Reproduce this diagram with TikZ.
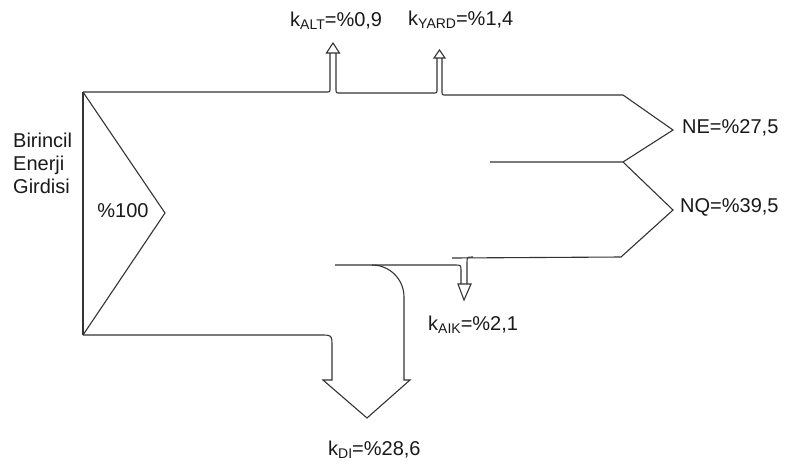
\documentclass[tikz,border=0pt]{standalone}
\usepackage{fontspec}
\setmainfont{Liberation Sans}
\newcommand\sbx[1]{\raisebox{-3pt}{\fontsize{14}{14}\selectfont #1}}
\begin{document}
\begin{tikzpicture}[x=1pt,y=-1pt,
  ln/.style={draw=black!80,line width=1.1pt,line join=miter},
  lbl/.style={inner sep=0pt,text=black!90,font=\fontsize{20}{23}\selectfont}]
\useasboundingbox (0,0) rectangle (789,464);
% left side and input chevron
\draw[ln] (83,335) -- (83,92);
\draw[ln] (83,92) -- (165,213) -- (83,335);
% top edge with ALT and YARD losses
\draw[ln] (83,92) -- (326,92) .. controls (330,92) .. (330,88) -- (330,53);
\draw[ln] (326.5,53) -- (333,43) -- (339.5,53) -- cycle;
\draw[ln] (336,53) -- (336,89) .. controls (336,93) .. (340,93) -- (433,93) .. controls (437,93) .. (437,89) -- (437,58);
\draw[ln] (434,58) -- (439.5,50) -- (445,58) -- cycle;
\draw[ln] (442,58) -- (442,91) .. controls (442,95) .. (446,95) -- (623,95) -- (673,130) -- (623,162) -- (490,162);
% NQ output and AIK loss
\draw[ln] (623,162) -- (673,210) -- (621,257) -- (452,258);
\draw[ln] (473,257) .. controls (467,257) .. (467,263) -- (467,284);
\draw[ln] (335,265) -- (455,265) .. controls (461,265) .. (461,271) -- (461,284);
\draw[ln] (458,284) -- (464,300) -- (471,284) -- cycle;
% DI loss
\draw[ln] (372,265) .. controls (389.7,265) and (404,279.3) .. (404,297) -- (404,380) -- (410,380) -- (367,418) -- (323,380) -- (332,380) -- (332,347) .. controls (332,335) .. (320,335) -- (83,335);
% labels
\node[lbl,anchor=base west,align=left] (inp) at (13,193) {Birincil\\Enerji\\Girdisi};
\node[lbl,anchor=base] (p100) at (123,217) {\%100};
\node[lbl,anchor=base west] (ne) at (682,133) {NE=\%27,5};
\node[lbl,anchor=base west] (nq) at (680,212) {NQ=\%39,5};
\node[lbl,anchor=base west] (alt) at (290,26) {k\sbx{ALT}=\%0,9};
\node[lbl,anchor=base west] (yard) at (408,25) {k\sbx{YARD}=\%1,4};
\node[lbl,anchor=base west] (aik) at (428,330) {k\sbx{AIK}=\%2,1};
\node[lbl,anchor=base west] (di) at (328,455) {k\sbx{DI}=\%28,6};
\end{tikzpicture}
\end{document}
